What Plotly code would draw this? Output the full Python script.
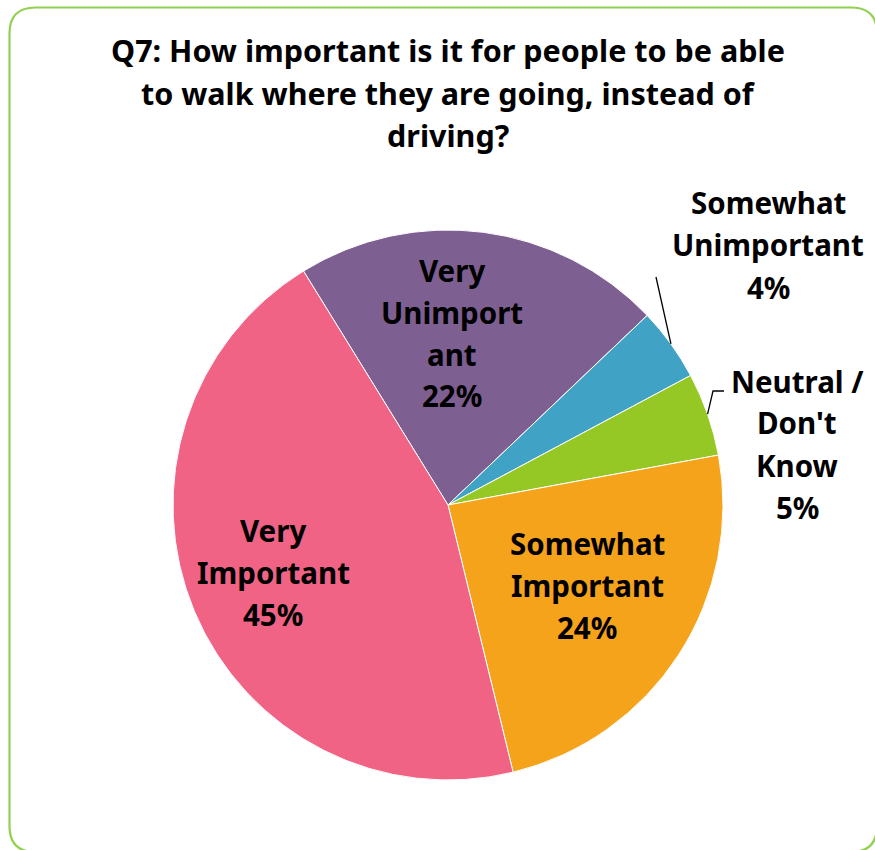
import math
import plotly.graph_objects as go

# ---------------- data ----------------
categories = ["Very Unimportant", "Somewhat Unimportant", "Neutral / Don't Know",
              "Somewhat Important", "Very Important"]
values = [21.7, 4.3, 4.9, 24.1, 45.0]
colors = ["#7D5F91", "#40A3C5", "#95C825", "#F5A31B", "#F06385"]
label_lines = [["Very", "Unimport", "ant"],
               ["Somewhat", "Unimportant"],
               ["Neutral /", "Don't", "Know"],
               ["Somewhat", "Important"],
               ["Very", "Important"]]
title_lines = ["Q7: How important is it for people to be able",
               "to walk where they are going, instead of",
               "driving?"]

# ---------------- layout helpers ----------------
W, H = 875, 850
CX, CY, R = 448, 505, 275
ROT = -31.7
FONT = "Noto Sans"


def px(x, y):
    return x / W, 1 - y / H


total = sum(values)
pcts = [f"{round(v / total * 100)}%" for v in values]

fig = go.Figure()
fig.add_trace(go.Pie(
    labels=categories, values=values, sort=False, direction="clockwise",
    rotation=ROT, marker=dict(colors=colors, line=dict(color="white", width=1)),
    textinfo="none", hoverinfo="label+percent", showlegend=False,
    domain=dict(x=[(CX - R) / W, (CX + R) / W],
                y=[(H - CY - R) / H, (H - CY + R) / H]),
))

annotations = []
# title
for i, t in enumerate(title_lines):
    x, y = px(CX, 50 + i * 42.5)
    annotations.append(dict(x=x, y=y, xref="paper", yref="paper", text=f"<b>{t}</b>",
                            showarrow=False, xanchor="center", yanchor="middle",
                            font=dict(family=FONT, size=30.5, color="black")))

# label placements (x center, first line y) per slice
label_pos = [(452, 270), (768, 203), (797, 381), (587, 543), (273, 530)]
LS = 42
for lines, pct, (lx, ly) in zip(label_lines, pcts, label_pos):
    for j, t in enumerate(lines + [pct]):
        x, y = px(lx, ly + j * LS)
        annotations.append(dict(x=x, y=y, xref="paper", yref="paper", text=f"<b>{t}</b>",
                                showarrow=False, xanchor="center", yanchor="middle",
                                font=dict(family=FONT, size=29.5, color="black")))

# leader line tips computed from slice mid-angles
cum = 0
mids = []
for v in values:
    a0 = ROT + cum / total * 360
    cum += v
    a1 = ROT + cum / total * 360
    mids.append((a0 + a1) / 2)


def edge(angle):
    r = math.radians(angle)
    return CX + R * math.sin(r), CY - R * math.cos(r)


shapes = []
tx, ty = edge(mids[1])
x0, y0 = px(656, 277)
x1, y1 = px(tx, ty)
shapes.append(dict(type="line", xref="paper", yref="paper", x0=x0, y0=y0, x1=x1, y1=y1,
                   line=dict(color="black", width=1.3)))
tx, ty = edge(mids[2])
a = px(724, 391); b = px(713, 391); c = px(tx, ty)
shapes.append(dict(type="path", xref="paper", yref="paper",
                   path=f"M {a[0]} {a[1]} L {b[0]} {b[1]} L {c[0]} {c[1]}",
                   line=dict(color="black", width=1.3)))

# rounded frame
L, T, Rr, B, rad = 9.5, 7.5, 877, 852, 26
p = [px(L + rad, T), px(Rr - rad, T), px(Rr, T), px(Rr, T + rad), px(Rr, B - rad), px(Rr, B),
     px(Rr - rad, B), px(L + rad, B), px(L, B), px(L, B - rad), px(L, T + rad), px(L, T)]
path = (f"M {p[0][0]} {p[0][1]} L {p[1][0]} {p[1][1]} Q {p[2][0]} {p[2][1]} {p[3][0]} {p[3][1]} "
        f"L {p[4][0]} {p[4][1]} Q {p[5][0]} {p[5][1]} {p[6][0]} {p[6][1]} "
        f"L {p[7][0]} {p[7][1]} Q {p[8][0]} {p[8][1]} {p[9][0]} {p[9][1]} "
        f"L {p[10][0]} {p[10][1]} Q {p[11][0]} {p[11][1]} {p[0][0]} {p[0][1]} Z")
shapes.append(dict(type="path", xref="paper", yref="paper", path=path,
                   line=dict(color="#92D050", width=2.2)))

fig.update_layout(width=W, height=H, margin=dict(l=0, r=0, t=0, b=0),
                  paper_bgcolor="white", plot_bgcolor="white",
                  annotations=annotations, shapes=shapes)

fig.write_html("out.html")
